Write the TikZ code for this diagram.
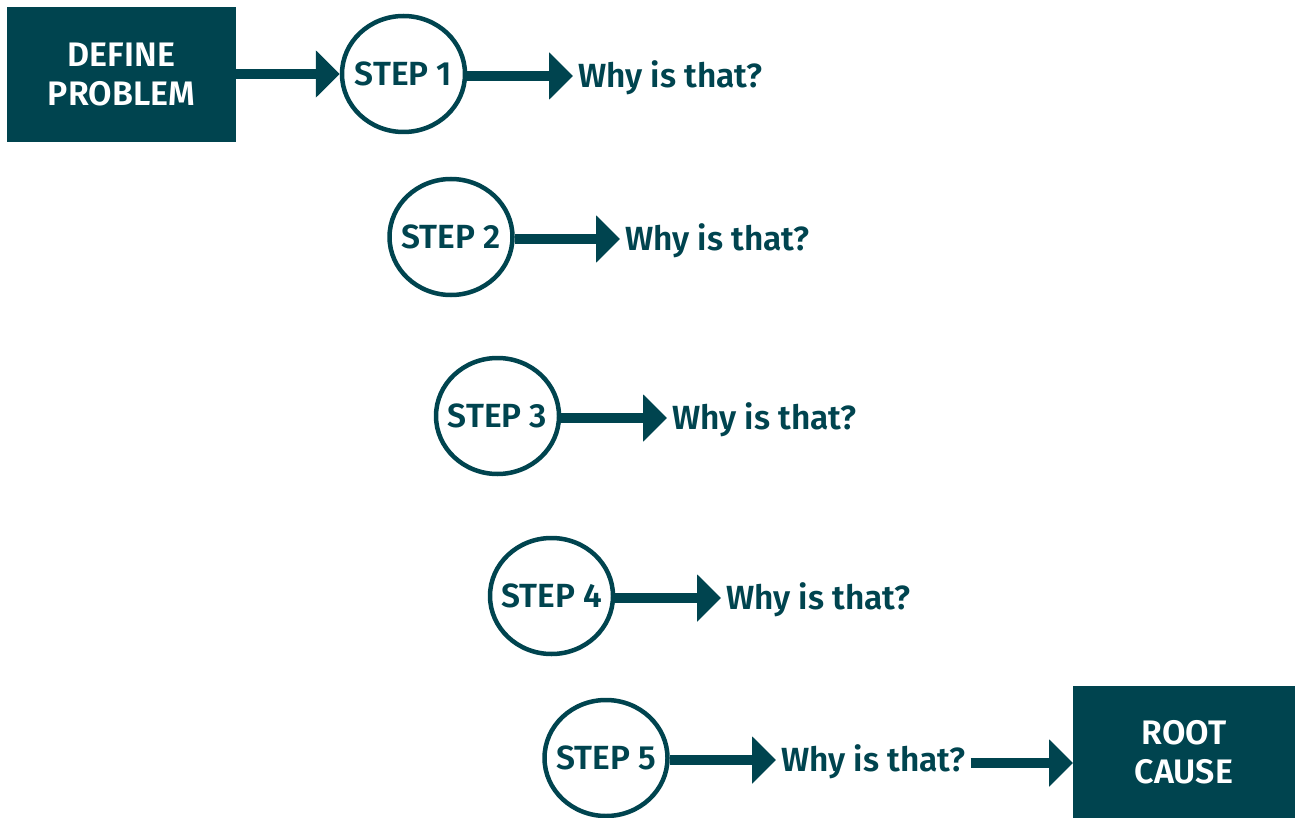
\documentclass[tikz,border=0pt]{standalone}
\usepackage{fontspec}
\setmainfont{Fira Sans}[BoldFont={Fira Sans SemiBold}]
\usetikzlibrary{arrows.meta,shapes.geometric}
\definecolor{teal5}{HTML}{00444F}
\tikzset{
  labeltext/.style={font=\fontsize{33.5}{38}\selectfont\bfseries, text height=23pt, text depth=0pt},
  stepnode/.style={ellipse, draw=teal5, line width=4.5pt, minimum width=123, minimum height=116,
    inner sep=0pt, inner xsep=-15pt, text=teal5, labeltext},
  whynode/.style={anchor=west, inner sep=0pt, inner xsep=5pt, outer sep=0pt, text=teal5, labeltext},
  endbox/.style={rectangle, fill=teal5, text=white, align=center, inner sep=0pt, outer sep=0pt,
    font=\fontsize{34}{39}\selectfont\bfseries},
  bigarrow/.style={teal5, line width=10pt, -{Triangle[length=24pt,width=46pt]}}
}
\begin{document}
\begin{tikzpicture}[x=1pt,y=-1pt]
    \useasboundingbox (0,0) rectangle (1295,818);

    % Start and end boxes
    \node[endbox, minimum width=229, minimum height=135] (define) at (121.5,74.5) {DEFINE\\PROBLEM};
    \node[endbox, minimum width=222, minimum height=132] (root) at (1184,752) {ROOT\\CAUSE};

    % Steps with their questions
    \foreach \i/\cx/\cy/\wx in {1/403.5/74/578, 2/451/237/625, 3/497.5/416/672, 4/551.5/596/726, 5/606/758/781} {
        \node[stepnode] (s\i) at (\cx,\cy) {STEP \i};
        \node[whynode] (w\i) at (\wx-5,\cy+2) {Why is that?};
        \draw[bigarrow] (s\i.east |- w\i.west) -- (w\i.west);
    }

    % Into the first step and out to the root cause
    \draw[bigarrow] (define.east |- s1.west) -- (s1.west);
    \draw[bigarrow] ([yshift=-3pt] w5.east) -- ([yshift=-3pt] w5.east -| root.west);
\end{tikzpicture}
\end{document}
